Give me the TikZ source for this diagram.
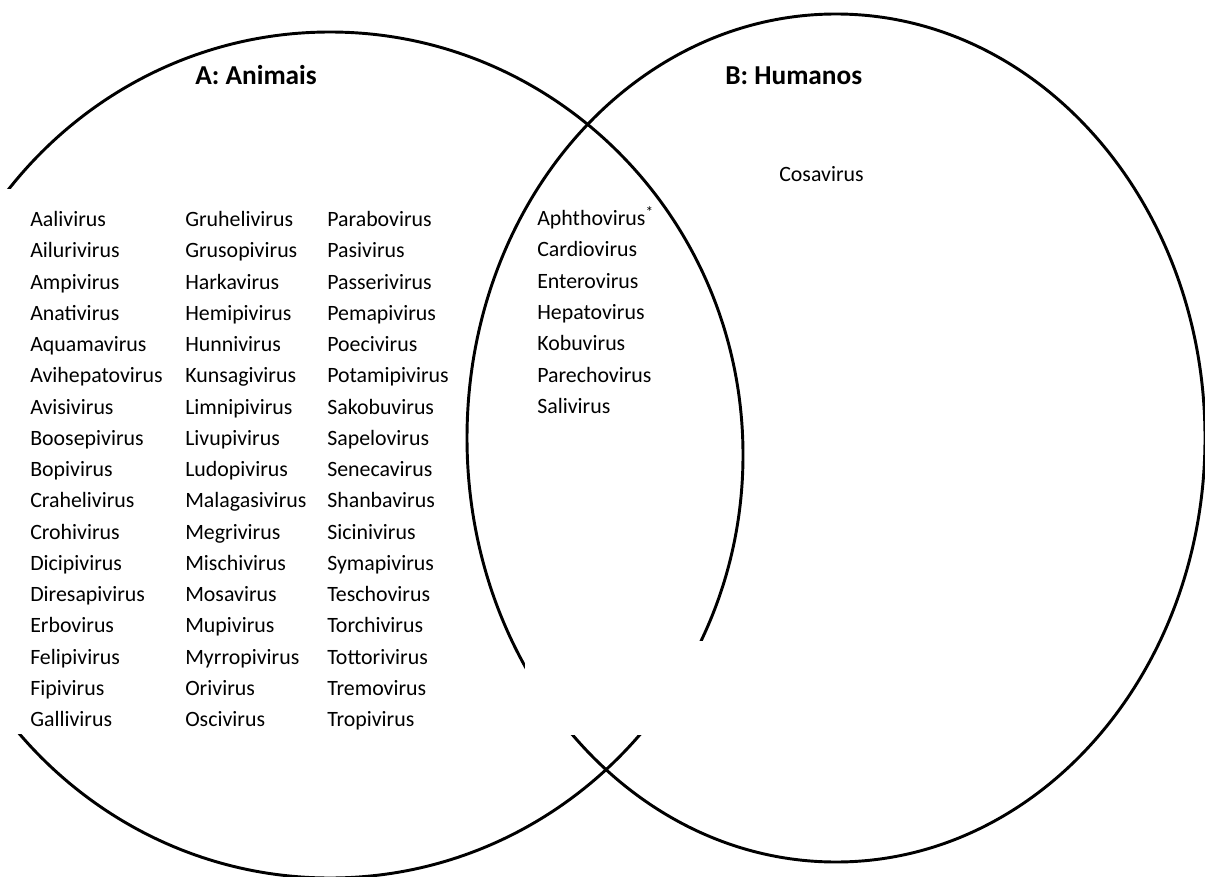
\documentclass[tikz,border=0pt]{standalone}
\usepackage{fontspec}
\setmainfont{Carlito}
\usetikzlibrary{positioning}

\tikzset{
  vennline/.style={line width=2.2pt, draw=black},
  gapmask/.style={fill=white, draw=none},
  virus/.style={anchor=base west, inner sep=0pt, font=\fontsize{16.4}{19}\selectfont},
  settitle/.style={anchor=base west, inner sep=0pt, font=\fontsize{20.5}{24}\selectfont\bfseries}
}

\begin{document}
\begin{tikzpicture}[x=0.75pt, y=-0.75pt]
	\useasboundingbox (0,0) rectangle (1205,877);
	% the two sets
	\draw [vennline] (330,455) ellipse [x radius=413, y radius=423];
	\draw [vennline] (836,438) ellipse [x radius=369, y radius=424];
	% white text boxes hiding parts of the outlines
	\path [gapmask] (-120,189) rectangle (462,734);
	\path [gapmask] (525,641) rectangle (722,735);
	% titles
	\node [settitle] (titleA) at (195,85) {A: Animais};
	\node [settitle] (titleB) at (725,85) {B: Humanos};
	% only humans
	\node [virus] (cosa) at (779,181.5) {Cosavirus};
	% only animals, three columns
	\foreach \name [count=\i] in {Aalivirus,Ailurivirus,Ampivirus,Anativirus,Aquamavirus,Avihepatovirus,Avisivirus,Boosepivirus,Bopivirus,Crahelivirus,Crohivirus,Dicipivirus,Diresapivirus,Erbovirus,Felipivirus,Fipivirus,Gallivirus}
		\node [virus] (colA\i) at (30,{226.5+(\i-1)*31.26}) {\name};
	\foreach \name [count=\i] in {Gruhelivirus,Grusopivirus,Harkavirus,Hemipivirus,Hunnivirus,Kunsagivirus,Limnipivirus,Livupivirus,Ludopivirus,Malagasivirus,Megrivirus,Mischivirus,Mosavirus,Mupivirus,Myrropivirus,Orivirus,Oscivirus}
		\node [virus] (colB\i) at (185,{226.5+(\i-1)*31.26}) {\name};
	\foreach \name [count=\i] in {Parabovirus,Pasivirus,Passerivirus,Pemapivirus,Poecivirus,Potamipivirus,Sakobuvirus,Sapelovirus,Senecavirus,Shanbavirus,Sicinivirus,Symapivirus,Teschovirus,Torchivirus,Tottorivirus,Tremovirus,Tropivirus}
		\node [virus] (colC\i) at (327,{226.5+(\i-1)*31.26}) {\name};
	% both
	\foreach \name [count=\i] in {Aphthovirus\textsuperscript{*},Cardiovirus,Enterovirus,Hepatovirus,Kobuvirus,Parechovirus,Salivirus}
		\node [virus] (both\i) at (537,{225.5+(\i-1)*31.3}) {\name};
\end{tikzpicture}
\end{document}
